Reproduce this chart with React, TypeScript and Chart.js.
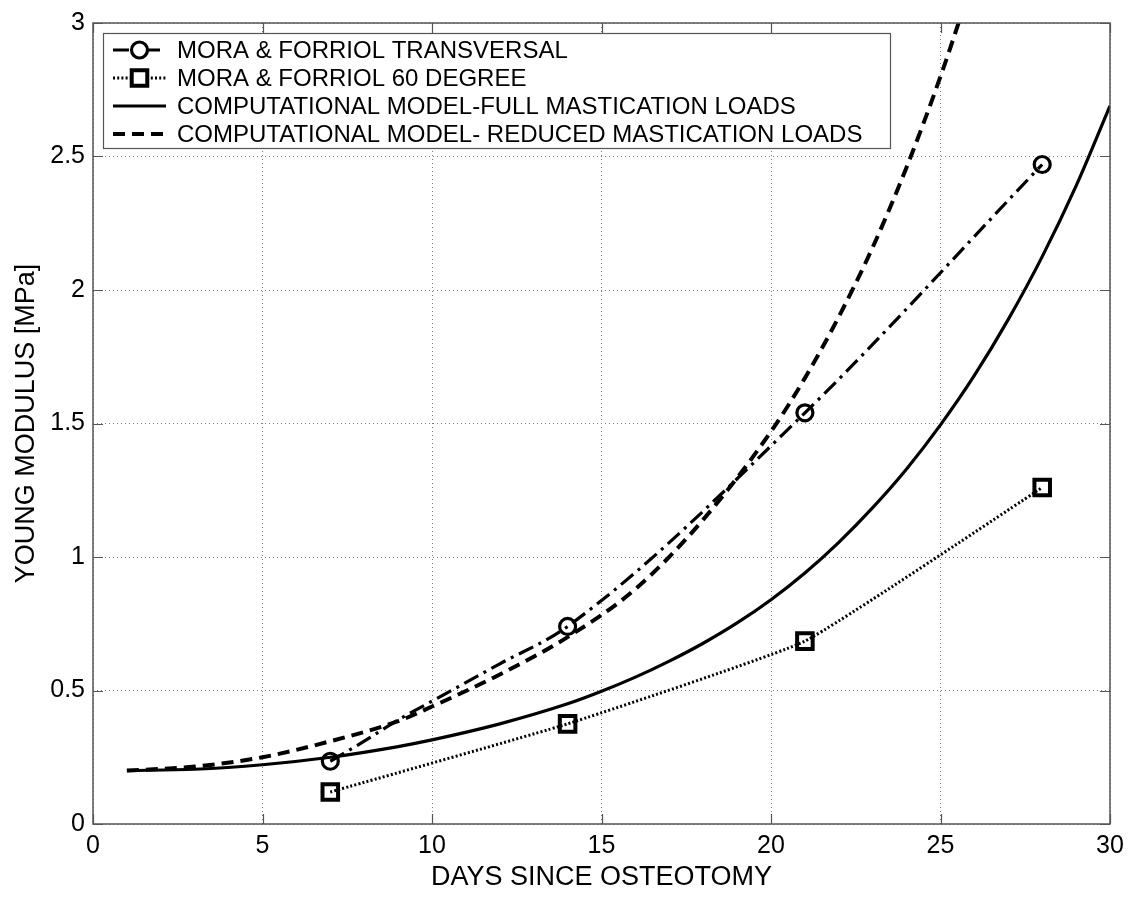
import React, { useEffect, useRef } from 'react';
import { Chart, registerables } from 'chart.js';

Chart.register(...registerables);

const FONT = '"Liberation Sans", Arial, Helvetica, sans-serif';

// ---- tick labels ----
const xTicks = [0, 5, 10, 15, 20, 25, 30];
const yTicks = [0, 0.5, 1, 1.5, 2, 2.5, 3];

// ---- series names ----
const seriesNames = [
  'MORA & FORRIOL TRANSVERSAL',
  'MORA & FORRIOL 60 DEGREE',
  'COMPUTATIONAL MODEL-FULL MASTICATION LOADS',
  'COMPUTATIONAL MODEL- REDUCED MASTICATION LOADS',
];

// ---- experimental measurements (markers) ----
const measureDays = [7, 14, 21, 28];
const transversalValues = [0.235, 0.74, 1.54, 2.47];
const degree60Values = [0.12, 0.375, 0.685, 1.26];

// ---- transversal connecting curve ----
const transversalLineDays = [7, 8, 9, 10, 12, 14, 21, 28];
const transversalLineValues = [0.235, 0.31, 0.39, 0.46, 0.6, 0.74, 1.54, 2.47];

// ---- computational model, full mastication loads ----
const fullDays = [1, 3, 5, 7, 9, 10, 12, 14, 15, 16, 17, 18, 19, 20, 21, 22, 23, 24, 25, 26, 27, 28, 29, 30];
const fullValues = [0.2, 0.205, 0.222, 0.25, 0.29, 0.315, 0.375, 0.45, 0.497, 0.55, 0.61, 0.677, 0.753, 0.84, 0.94, 1.055, 1.185, 1.33, 1.495, 1.68, 1.89, 2.125, 2.39, 2.69];

// ---- computational model, reduced mastication loads ----
const reducedDays = [1, 3, 5, 7, 9, 10, 12, 14, 16, 18, 20, 21, 22, 23, 24, 25, 26];
const reducedValues = [0.2, 0.215, 0.25, 0.31, 0.385, 0.44, 0.56, 0.7, 0.88, 1.14, 1.47, 1.67, 1.9, 2.16, 2.46, 2.8, 3.18];

const zip = (xs: number[], ys: number[]) => xs.map((x, i) => ({ x, y: ys[i] }));

const STYLE = {
  transversal: { dash: [16, 6, 3, 6], width: 3.2, marker: 'circle', radius: 8, markerWidth: 3.2 },
  degree60: { dash: [2, 2.2], width: 3, marker: 'rect', radius: 11, markerWidth: 4 },
  full: { dash: [] as number[], width: 3.2, marker: null, radius: 0, markerWidth: 0 },
  reduced: { dash: [12, 7], width: 4, marker: null, radius: 0, markerWidth: 0 },
};
const legendStyles = [STYLE.transversal, STYLE.degree60, STYLE.full, STYLE.reduced];

const framePlugin = {
  id: 'matlabFrame',
  afterDatasetsDraw(chart: any) {
    const { ctx, chartArea: a, scales } = chart;
    ctx.save();
    ctx.strokeStyle = '#555555';
    ctx.lineWidth = 1.5;
    ctx.setLineDash([]);
    ctx.strokeRect(a.left, a.top, a.right - a.left, a.bottom - a.top);
    ctx.lineWidth = 1.2;
    const L = 10;
    ctx.beginPath();
    xTicks.forEach((v) => {
      const px = Math.round(scales.x.getPixelForValue(v)) + 0.5;
      ctx.moveTo(px, a.bottom);
      ctx.lineTo(px, a.bottom - L);
      ctx.moveTo(px, a.top);
      ctx.lineTo(px, a.top + L);
    });
    yTicks.forEach((v) => {
      const py = Math.round(scales.y.getPixelForValue(v)) + 0.5;
      ctx.moveTo(a.left, py);
      ctx.lineTo(a.left + L, py);
      ctx.moveTo(a.right, py);
      ctx.lineTo(a.right - L, py);
    });
    ctx.stroke();
    ctx.restore();
  },
};

const legendPlugin = {
  id: 'insideLegend',
  afterDraw(chart: any) {
    const { ctx } = chart;
    const box = { left: 103, top: 33, right: 890, bottom: 148 };
    ctx.save();
    ctx.fillStyle = '#ffffff';
    ctx.fillRect(box.left, box.top, box.right - box.left, box.bottom - box.top);
    ctx.strokeStyle = '#555555';
    ctx.lineWidth = 1.2;
    ctx.setLineDash([]);
    ctx.strokeRect(box.left + 0.5, box.top + 0.5, box.right - box.left, box.bottom - box.top);
    const rowY = [50, 78, 106, 134];
    const x0 = 113;
    const x1 = 166;
    ctx.font = `24px ${FONT}`;
    ctx.textBaseline = 'middle';
    ctx.textAlign = 'left';
    seriesNames.forEach((name, i) => {
      const st = legendStyles[i];
      const y = rowY[i];
      ctx.strokeStyle = '#000';
      ctx.lineWidth = st.width;
      ctx.setLineDash(st.dash);
      ctx.beginPath();
      ctx.moveTo(x0, y);
      ctx.lineTo(x1, y);
      ctx.stroke();
      ctx.setLineDash([]);
      if (st.marker) {
        const cx = (x0 + x1) / 2;
        ctx.lineWidth = st.markerWidth;
        ctx.fillStyle = '#ffffff';
        ctx.beginPath();
        if (st.marker === 'circle') {
          ctx.arc(cx, y, st.radius, 0, Math.PI * 2);
        } else {
          const s = st.radius * Math.SQRT1_2;
          ctx.rect(cx - s, y - s, 2 * s, 2 * s);
        }
        ctx.fill();
        ctx.stroke();
      }
      ctx.fillStyle = '#000';
      ctx.fillText(name, 177, y + 1);
    });
    ctx.restore();
  },
};

export default function App() {
  const ref = useRef<HTMLCanvasElement | null>(null);

  useEffect(() => {
    document.body.style.margin = '0';
    const canvas = ref.current;
    if (!canvas) return;
    const transparent = 'rgba(0,0,0,0)';
    const chart = new Chart(canvas, {
      type: 'line',
      data: {
        datasets: [
          {
            label: seriesNames[0],
            data: zip(transversalLineDays, transversalLineValues),
            borderColor: '#000',
            borderWidth: STYLE.transversal.width,
            borderDash: STYLE.transversal.dash,
            pointRadius: 0,
            cubicInterpolationMode: 'monotone',
            fill: false,
          },
          {
            label: seriesNames[0] + ' markers',
            data: zip(measureDays, transversalValues),
            showLine: false,
            pointStyle: 'circle',
            pointRadius: STYLE.transversal.radius,
            pointBorderWidth: STYLE.transversal.markerWidth,
            pointBorderColor: '#000',
            pointBackgroundColor: transparent,
            borderColor: '#000',
          },
          {
            label: seriesNames[1],
            data: zip(measureDays, degree60Values),
            borderColor: '#000',
            borderWidth: STYLE.degree60.width,
            borderDash: STYLE.degree60.dash,
            tension: 0.12,
            pointStyle: 'rect',
            pointRadius: STYLE.degree60.radius,
            pointBorderWidth: STYLE.degree60.markerWidth,
            pointBorderColor: '#000',
            pointBackgroundColor: transparent,
            fill: false,
          },
          {
            label: seriesNames[2],
            data: zip(fullDays, fullValues),
            borderColor: '#000',
            borderWidth: STYLE.full.width,
            pointRadius: 0,
            cubicInterpolationMode: 'monotone',
            fill: false,
          },
          {
            label: seriesNames[3],
            data: zip(reducedDays, reducedValues),
            borderColor: '#000',
            borderWidth: STYLE.reduced.width,
            borderDash: STYLE.reduced.dash,
            pointRadius: 0,
            cubicInterpolationMode: 'monotone',
            fill: false,
          },
        ],
      },
      options: {
        animation: false,
        responsive: false,
        devicePixelRatio: 1,
        layout: { padding: { left: 0, right: 23, top: 21, bottom: 0 } },
        plugins: {
          legend: { display: false },
          tooltip: { enabled: false },
        },
        scales: {
          x: {
            type: 'linear',
            min: 0,
            max: 30,
            afterBuildTicks: (s: any) => {
              s.ticks = xTicks.map((v) => ({ value: v }));
            },
            afterFit: (s: any) => {
              s.height = 74;
            },
            ticks: {
              color: '#000',
              font: { family: FONT, size: 25 },
              padding: 7,
              maxRotation: 0,
              autoSkip: false,
              callback: (v: any) => String(v),
            },
            grid: { color: '#7a7a7a', lineWidth: 1, drawTicks: false },
            border: { display: false, dash: [1, 3] },
            title: {
              display: true,
              text: 'DAYS SINCE OSTEOTOMY',
              color: '#000',
              font: { family: FONT, size: 27 },
              padding: { top: 0, bottom: 4 },
            },
          },
          y: {
            type: 'linear',
            min: 0,
            max: 3,
            afterBuildTicks: (s: any) => {
              s.ticks = yTicks.map((v) => ({ value: v }));
            },
            afterFit: (s: any) => {
              s.width = 93;
            },
            ticks: {
              color: '#000',
              font: { family: FONT, size: 25 },
              padding: 8,
              autoSkip: false,
              callback: (v: any) => String(v),
            },
            grid: { color: '#7a7a7a', lineWidth: 1, drawTicks: false },
            border: { display: false, dash: [1, 3] },
            title: {
              display: true,
              text: 'YOUNG MODULUS [MPa]',
              color: '#000',
              font: { family: FONT, size: 27 },
              padding: { top: 10, bottom: 0 },
            },
          },
        },
      },
      plugins: [framePlugin, legendPlugin],
    });
    return () => chart.destroy();
  }, []);

  return (
    <div style={{ position: 'absolute', left: 0, top: 0, width: 1133, height: 898, background: '#fff' }}>
      <canvas ref={ref} width={1133} height={898} style={{ display: 'block' }} />
    </div>
  );
}
